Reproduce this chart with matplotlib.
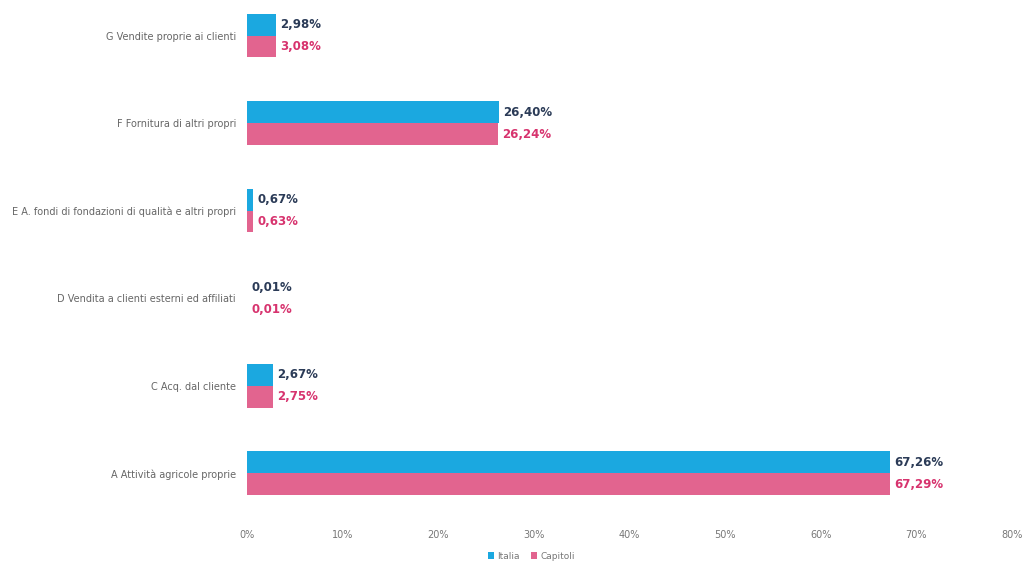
import matplotlib
matplotlib.use("Agg")
import matplotlib.pyplot as plt
import numpy as np

categories = ["G Vendite proprie ai clienti",
              "F Fornitura di altri propri",
              "E A. fondi di fondazioni di qualità e altri propri",
              "D Vendita a clienti esterni ed affiliati",
              "C Acq. dal cliente",
              "A Attività agricole proprie"]
series_names = ["Italia", "Capitoli"]
blue_vals = [2.98, 26.40, 0.67, 0.01, 2.67, 67.26]
pink_vals = [3.08, 26.24, 0.63, 0.01, 2.75, 67.29]
x_ticks = [0, 10, 20, 30, 40, 50, 60, 70, 80]

blue = "#1BA8E0"
pink = "#E2648F"
blue_txt = "#2B3B57"
pink_txt = "#D7336E"

fig = plt.figure(figsize=(10.22, 5.62), dpi=100)
ax = fig.add_axes([0.2417, 0.08, 0.7485, 0.902])

n = len(categories)
ypos = np.arange(n)[::-1]  # G at top
h = 0.25
ax.barh(ypos + h / 2, blue_vals, height=h, color=blue, label=series_names[0])
ax.barh(ypos - h / 2, pink_vals, height=h, color=pink, label=series_names[1])

def fmt(v):
    return f"{v:.2f}%".replace(".", ",")

for y, v in zip(ypos, blue_vals):
    ax.annotate(fmt(v), (v, y + h / 2), xytext=(3, 0), textcoords="offset points",
                va="center", ha="left", fontsize=8.5, fontweight="bold", color=blue_txt)
for y, v in zip(ypos, pink_vals):
    ax.annotate(fmt(v), (v, y - h / 2), xytext=(3, 0), textcoords="offset points",
                va="center", ha="left", fontsize=8.5, fontweight="bold", color=pink_txt)

ax.set_xlim(0, 80)
ax.set_ylim(-0.5, 5.29)
ax.set_xticks(x_ticks)
ax.set_xticklabels([f"{t}%" for t in x_ticks], fontsize=7, color="#777777")
ax.set_yticks(ypos)
ax.set_yticklabels(categories, fontsize=7, color="#666666")
ax.tick_params(axis="both", length=0, pad=8)
ax.tick_params(axis="x", pad=9)
for s in ax.spines.values():
    s.set_visible(False)

leg = fig.legend(loc="lower center", bbox_to_anchor=(0.52, -0.012), ncol=2,
                 frameon=False, fontsize=6.5, handlelength=0.7, handleheight=0.7,
                 columnspacing=1.2, handletextpad=0.4)
for t in leg.get_texts():
    t.set_color("#777777")

fig.savefig("out.png", dpi=100, facecolor="white")
